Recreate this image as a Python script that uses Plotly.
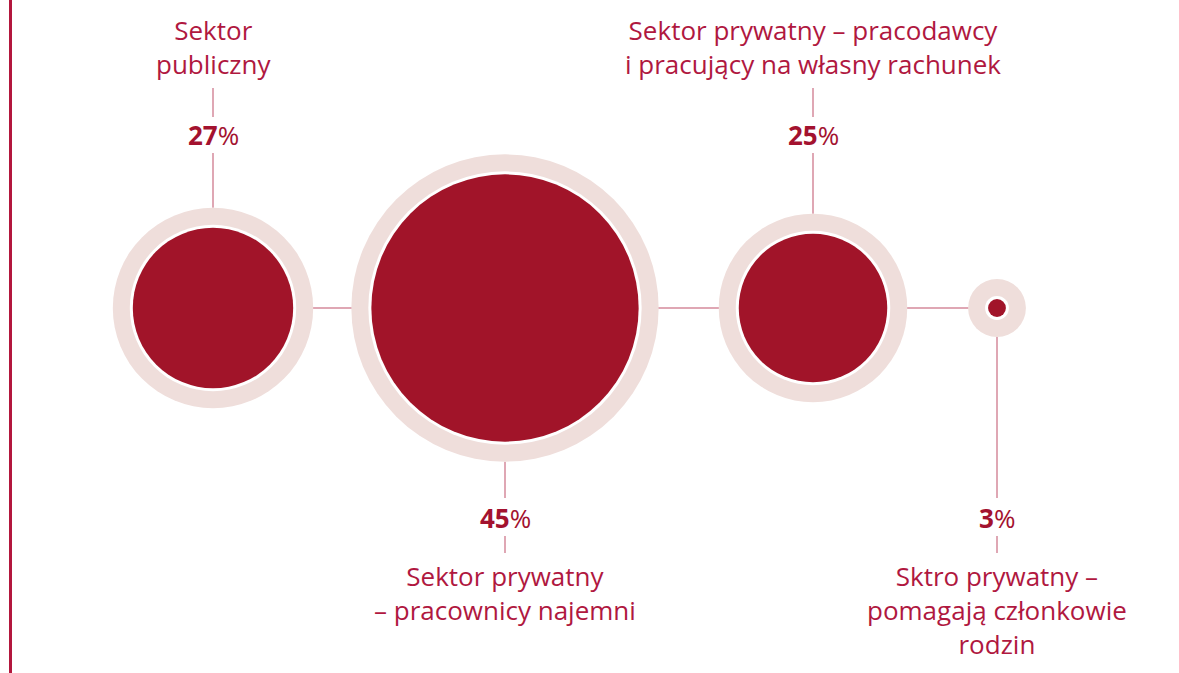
import plotly.graph_objects as go

# ---- data ----
categories = [
    "Sektor<br>publiczny",
    "Sektor prywatny<br>– pracownicy najemni",
    "Sektor prywatny – pracodawcy<br>i pracujący na własny rachunek",
    "Sktro prywatny –<br>pomagają członkowie<br>rodzin",
]
shares = [27, 45, 25, 3]

# ---- layout constants (pixels) ----
W, H = 1179, 673
cx = [213, 505, 813, 997]
cy = 308
side = ["top", "bottom", "top", "bottom"]
px_per_pct = 2.97          # inner radius per percentage point
ring = 20                  # pink ring outer radius - inner radius
gap = 3                    # white gap

DARK = "#a11429"
RING = "#efdedb"
LINE = "#d48a9b"
TEXT = "#b0183f"
NUM = "#a3122f"
FONT = "Open Sans"
FS = 26
LH = 1.3 * FS              # plotly line height

r_inner = [s * px_per_pct for s in shares]
r_outer = [r + ring for r in r_inner]
r_white = [r + gap for r in r_inner]

fig = go.Figure()

# horizontal connecting line
fig.add_trace(go.Scatter(x=[cx[0], cx[-1]], y=[cy, cy], mode="lines",
                         line=dict(color=LINE, width=1.5), hoverinfo="skip"))

# vertical connectors
for i, s in enumerate(side):
    x = cx[i]
    if s == "top":
        segs = [(88, 117), (153, cy - r_outer[i])]
    else:
        segs = [(cy + r_outer[i], 498), (536, 553)]
    for y0, y1 in segs:
        fig.add_trace(go.Scatter(x=[x, x], y=[y0, y1], mode="lines",
                                 line=dict(color=LINE, width=1.5), hoverinfo="skip"))

# circles: pink ring, white gap, dark core
for radii, col in [(r_outer, RING), (r_white, "white"), (r_inner, DARK)]:
    fig.add_trace(go.Scatter(
        x=cx, y=[cy] * len(cx), mode="markers",
        marker=dict(size=[2 * r for r in radii], color=col, line=dict(width=0),
                    sizemode="diameter", opacity=1),
        hovertext=[c.replace("<br>", " ") for c in categories], hoverinfo="text"))

# labels
for i, s in enumerate(side):
    n = categories[i].count("<br>") + 1
    if s == "top":
        ty = 30 + (n - 1) * LH / 2
        py = 135
    else:
        ty = 576 + (n - 1) * LH / 2
        py = 518
    fig.add_annotation(x=cx[i], y=ty, text=categories[i], showarrow=False,
                       xanchor="center", yanchor="middle", align="center",
                       font=dict(family=FONT, size=FS, color=TEXT))
    fig.add_annotation(x=cx[i], y=py, text=f"<b>{shares[i]}</b>%", showarrow=False,
                       xanchor="center", yanchor="middle",
                       font=dict(family=FONT, size=FS, color=NUM))

# left border line
fig.add_shape(type="line", x0=10.5, x1=10.5, y0=0, y1=H,
              line=dict(color="#b3173d", width=3))

fig.update_layout(
    width=W, height=H, margin=dict(l=0, r=0, t=0, b=0),
    paper_bgcolor="white", plot_bgcolor="white", showlegend=False,
    xaxis=dict(range=[0, W], visible=False, fixedrange=True),
    yaxis=dict(range=[H, 0], visible=False, fixedrange=True),
)

fig.write_html("out.html", config={"displayModeBar": False})
